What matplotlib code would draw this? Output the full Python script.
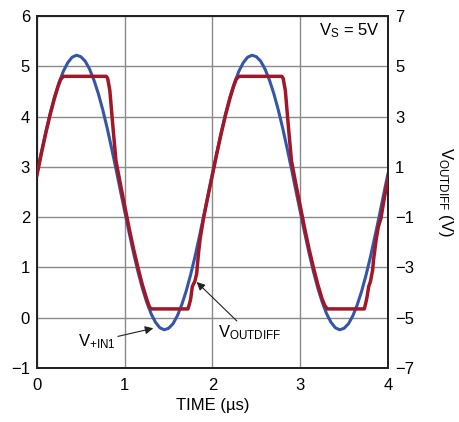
import matplotlib
matplotlib.use("Agg")
import matplotlib.pyplot as plt
from matplotlib import font_manager

# ---- data -------------------------------------------------------------
# input sine V+IN1 (left axis, volts) sampled every 0.05 us
time_in = [round(0.05 * i, 2) for i in range(81)]
v_in1 = [2.87, 3.29, 3.69, 4.06, 4.39, 4.67, 4.90, 5.07, 5.18, 5.22,
         5.19, 5.10, 4.94, 4.72, 4.45, 4.13, 3.77, 3.37, 2.96, 2.53,
         2.11, 1.69, 1.29, 0.92, 0.59, 0.31, 0.08, -0.09, -0.20, -0.24,
         -0.21, -0.12, 0.04, 0.26, 0.53, 0.85, 1.21, 1.61, 2.02, 2.45,
         2.87, 3.29, 3.69, 4.06, 4.39, 4.67, 4.90, 5.07, 5.18, 5.22,
         5.19, 5.10, 4.94, 4.72, 4.45, 4.13, 3.77, 3.37, 2.96, 2.53,
         2.11, 1.69, 1.29, 0.92, 0.59, 0.31, 0.08, -0.09, -0.20, -0.24,
         -0.21, -0.12, 0.04, 0.26, 0.53, 0.85, 1.21, 1.61, 2.02, 2.45,
         2.87]

# clipped differential output VOUTDIFF (right axis, volts)
time_out = [0.00, 0.05, 0.10, 0.15, 0.20, 0.24, 0.27, 0.30, 0.79, 0.805,
            0.83, 0.865, 0.90, 0.95, 1.00, 1.05, 1.10, 1.15, 1.20, 1.25,
            1.28, 1.30, 1.72, 1.735, 1.75, 1.77, 1.80, 1.82, 1.84, 1.86,
            1.90, 1.95, 2.00,
            2.05, 2.10, 2.15, 2.20, 2.24, 2.27, 2.30, 2.79, 2.805, 2.83,
            2.865, 2.90, 2.95, 3.00, 3.05, 3.10, 3.15, 3.20, 3.25, 3.28,
            3.31, 3.73, 3.745, 3.76, 3.78, 3.80, 3.825, 3.835, 3.865, 3.89,
            3.92, 3.96, 4.00]
v_outdiff = [0.68, 1.54, 2.34, 3.08, 3.74, 4.20, 4.48, 4.60, 4.60, 4.52,
             4.04, 2.60, 1.24, 0.32, -0.56, -1.44, -2.26, -3.00, -3.68, -4.26,
             -4.56, -4.65, -4.65, -4.48, -4.28, -3.76, -3.54, -3.24, -2.44, -1.84,
             -1.00, -0.14, 0.70,
             1.54, 2.34, 3.08, 3.74, 4.20, 4.48, 4.60, 4.60, 4.52, 4.04,
             2.60, 1.24, 0.32, -0.56, -1.44, -2.26, -3.00, -3.68, -4.26, -4.52,
             -4.65, -4.65, -4.44, -4.20, -3.76, -3.56, -3.10, -2.70, -1.90, -1.38,
             -1.04, -0.20, 0.52]

x_ticks = [0, 1, 2, 3, 4]
left_ticks = [-1, 0, 1, 2, 3, 4, 5, 6]
right_ticks = [-7, -5, -3, -1, 1, 3, 5, 7]

# ---- style ------------------------------------------------------------
installed = {f.name for f in font_manager.fontManager.ttflist}
family = ["Liberation Sans Narrow", "DejaVu Sans"] if "Liberation Sans Narrow" in installed \
    else ["Liberation Sans", "DejaVu Sans"]
plt.rcParams["font.family"] = family
plt.rcParams["mathtext.default"] = "regular"
plt.rcParams["mathtext.fontset"] = "custom"
plt.rcParams["mathtext.rm"] = family[0]

BLUE = "#3556a8"
RED = "#a01828"
FS = 12

fig = plt.figure(figsize=(4.6, 4.22), dpi=100)
ax = fig.add_axes([37 / 460, 1 - 368 / 422, 351 / 460, 352 / 422])
ax2 = ax.twinx()

ax.plot(time_in, v_in1, color=BLUE, lw=2.2, solid_capstyle="round", zorder=3)
ax2.plot(time_out, v_outdiff, color=RED, lw=2.5, solid_joinstyle="round", zorder=4)

ax.set_xlim(0, 4)
ax.set_ylim(-1, 6)
ax2.set_ylim(-7, 7)
ax.set_xticks(x_ticks)
ax.set_yticks(left_ticks)
ax2.set_yticks(right_ticks)
ax2.set_yticklabels([str(v).replace("-", "\u2212") for v in right_ticks])
ax.set_yticklabels([str(v).replace("-", "\u2212") for v in left_ticks])

ax.grid(True, color="#8a8a8a", lw=1.0)
ax.set_axisbelow(True)
for a in (ax, ax2):
    a.tick_params(length=0, labelsize=FS, pad=5)
    for s in a.spines.values():
        s.set_color("#222222")
        s.set_linewidth(1.3)
ax.tick_params(axis="x", pad=7)

ax.set_xlabel("TIME (\u00b5s)", fontsize=FS, labelpad=4)
ax2.set_ylabel("$V_{OUTDIFF}$ (V)", fontsize=FS, rotation=270, labelpad=14)
ax2.yaxis.set_label_coords(1.19, 0.50)

ax.text(0.975, 0.985, "$V_S$ = 5V", transform=ax.transAxes, ha="right",
        va="top", fontsize=FS)

arrow = dict(arrowstyle="-|>", color="#222222", lw=0.8, mutation_scale=12,
             shrinkA=0, shrinkB=0)
ax.annotate("$V_{+IN1}$", xy=(1.325, -0.21), xytext=(0.89, -0.47),
            ha="right", va="center", fontsize=FS, arrowprops=arrow, zorder=6)
ax.annotate("$V_{OUTDIFF}$", xy=(1.82, 0.71), xytext=(2.42, -0.12),
            ha="center", va="top", fontsize=FS, arrowprops=arrow, zorder=6)

fig.savefig("out.png", dpi=100)
